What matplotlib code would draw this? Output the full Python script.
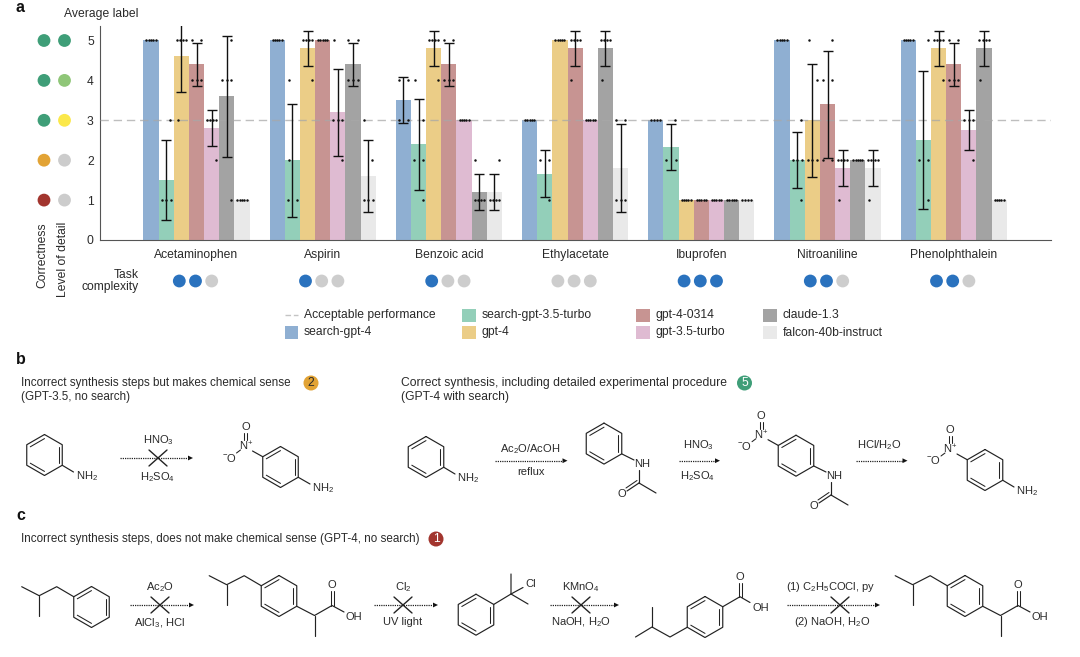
import numpy as np
import matplotlib
matplotlib.use("Agg")
import matplotlib.pyplot as plt
from matplotlib.patches import Circle, Polygon, Rectangle

plt.rcParams["font.family"] = ["Liberation Sans", "DejaVu Sans"]
plt.rcParams["mathtext.fontset"] = "custom"
plt.rcParams["mathtext.rm"] = "Liberation Sans"
plt.rcParams["mathtext.default"] = "regular"

TEXT = "#2a2a2a"
INK = "#222222"

chemicals = ["Acetaminophen", "Aspirin", "Benzoic acid", "Ethylacetate", "Ibuprofen", "Nitroaniline", "Phenolphthalein"]
models = ["search-gpt-4", "search-gpt-3.5-turbo", "gpt-4", "gpt-4-0314", "gpt-3.5-turbo", "claude-1.3", "falcon-40b-instruct"]
model_colors = ["#8fafd2", "#93cfb9", "#ebcd87", "#c79492", "#dfbbd2", "#a3a3a3", "#e9e9e9"]

# scores per model, same order as models
acetaminophen = [[5, 5, 5, 5, 5], [3, 1, 1, 1], [5, 5, 5, 5, 3], [5, 5, 4, 4, 4], [3, 3, 3, 3, 2], [5, 4, 4, 4, 1], [1, 1, 1, 1, 1]]
aspirin = [[5, 5, 5, 5, 5], [4, 2, 1, 1], [5, 5, 5, 5, 4], [5, 5, 5, 5, 5], [5, 3, 3, 3, 2], [5, 5, 4, 4, 4], [3, 2, 1, 1, 1]]
benzoic_acid = [[4, 4, 3, 3], [4, 3, 2, 2, 1], [5, 5, 5, 5, 4], [5, 5, 4, 4, 4], [3, 3, 3, 3, 3], [2, 1, 1, 1, 1], [2, 1, 1, 1, 1]]
ethylacetate = [[3, 3, 3, 3, 3], [2, 2, 1], [5, 5, 5, 5, 5], [5, 5, 5, 5, 4], [3, 3, 3, 3, 3], [5, 5, 5, 5, 4], [3, 3, 1, 1, 1]]
ibuprofen = [[3, 3, 3, 3], [3, 2, 2], [1, 1, 1, 1, 1], [1, 1, 1, 1, 1], [1, 1, 1, 1, 1], [1, 1, 1, 1, 1], [1, 1, 1, 1]]
nitroaniline = [[5, 5, 5, 5, 5], [3, 2, 2, 2, 1], [5, 4, 2, 2, 2], [5, 4, 4, 2, 2], [2, 2, 2, 2, 1], [2, 2, 2, 2, 2], [2, 2, 2, 2, 1]]
phenolphthalein = [[5, 5, 5, 5, 5], [5, 2, 2, 1], [5, 5, 5, 5, 4], [5, 5, 4, 4, 4], [3, 3, 3, 2], [5, 5, 5, 5, 4], [1, 1, 1, 1, 1]]
all_scores = [acetaminophen, aspirin, benzoic_acid, ethylacetate, ibuprofen, nitroaniline, phenolphthalein]

complexity = [2, 1, 1, 0, 3, 2, 2]
acceptable = 3
correctness_colors = ["#a2352e", "#e2a335", "#3f9e78", "#3f9e78", "#3f9e78"]
detail_colors = ["#cccccc", "#cccccc", "#fbe84a", "#8fc678", "#3f9e78"]
levels = [1, 2, 3, 4, 5]

W, H = 1080, 657
fig = plt.figure(figsize=(W / 100, H / 100), dpi=100)

# main bar axes, placed in pixels
AX_L, AX_R, AX_B, AX_T = 100, 1051, 240, 26
UNIT = 39.9
GROUP = 126.2
X0 = 196.5
BAR = 15.17

ax = fig.add_axes([AX_L / W, 1 - AX_B / H, (AX_R - AX_L) / W, (AX_B - AX_T) / H])
ax.set_xlim((AX_L - X0) / GROUP, (AX_R - X0) / GROUP)
ax.set_ylim(0, (AX_B - AX_T) / UNIT)
bar_w = BAR / GROUP

for i, group in enumerate(all_scores):
    for j, scores in enumerate(group):
        x = i + (j - 3) * bar_w
        mean = np.mean(scores)
        sd = np.std(scores, ddof=1)
        ax.bar(x, mean, bar_w, color=model_colors[j], zorder=2)
        if sd > 0:
            ax.errorbar(x, mean, yerr=sd, color="#111111", lw=1.0, capsize=3.7, capthick=1.0, zorder=5)
        vals, counts = np.unique(scores, return_counts=True)
        for v, c in zip(vals, counts):
            if c == 1:
                off = np.array([-0.25 if (v + j) % 2 else 0.28])
            else:
                off = np.linspace(-0.3, 0.3, c)
            ax.scatter(x + off * bar_w, [v] * c, s=3.2, color="#111111", linewidths=0, zorder=6)

ax.axhline(acceptable, color="#a8a8a8", lw=1.0, ls=(0, (6, 3.5)), alpha=0.75, zorder=4)

ax.spines["top"].set_visible(False)
ax.spines["right"].set_visible(False)
ax.spines["left"].set_color("#555555")
ax.spines["bottom"].set_color("#555555")
ax.spines["left"].set_linewidth(0.8)
ax.spines["bottom"].set_linewidth(0.8)
ax.set_yticks([0, 1, 2, 3, 4, 5])
ax.set_xticks(range(len(chemicals)))
ax.set_xticklabels(chemicals)
ax.tick_params(axis="both", length=0, labelsize=8.7, labelcolor=TEXT)
ax.tick_params(axis="y", pad=4.5)
ax.tick_params(axis="x", pad=6.5)

# everything else is drawn on a pixel overlay
ov = fig.add_axes([0, 0, 1, 1], zorder=-1)
ov.set_xlim(0, W)
ov.set_ylim(H, 0)
ov.axis("off")


def label(x, y, s, size=8.7, ha="left", va="center", **kw):
    ov.text(x, y, s, fontsize=size, ha=ha, va=va, color=kw.pop("color", TEXT), **kw)


def dot(x, y, r, color):
    ov.add_patch(Circle((x, y), r, color=color, lw=0))


def line(pts, lw=0.85):
    xs, ys = zip(*pts)
    ov.plot(xs, ys, color=INK, lw=lw, solid_capstyle="round", solid_joinstyle="round")


def ring(cx, cy, r=20.5):
    a = np.radians(np.arange(6) * 60)
    vx = cx + r * np.sin(a)
    vy = cy - r * np.cos(a)
    line(list(zip(np.r_[vx, vx[0]], np.r_[vy, vy[0]])))
    for k in (1, 3, 5):
        n = (k + 1) % 6
        p = (cx + 0.8 * (vx[k] - cx), cy + 0.8 * (vy[k] - cy))
        q = (cx + 0.8 * (vx[n] - cx), cy + 0.8 * (vy[n] - cy))
        line([p, q], lw=0.75)


def arrow(x0, x1, y, cross=None):
    ov.plot([x0, x1 - 4], [y, y], color=INK, lw=0.9, ls=(0, (1, 0.8)))
    ov.add_patch(Polygon([(x1 - 5, y - 2.4), (x1, y), (x1 - 5, y + 2.4)], color="#111111", lw=0))
    if cross is not None:
        line([(cross - 9, y - 8), (cross + 9, y + 8)], lw=1.0)
        line([(cross - 9, y + 8), (cross + 9, y - 8)], lw=1.0)


def aniline(cx, cy):
    ring(cx, cy)
    line([(cx + 17.8, cy + 10.3), (cx + 29, cy + 17)])
    label(cx + 31, cy + 21, "NH$_2$", size=8, ha="left")


def nitro(cx, cy):
    # N+ and its oxygens on the upper left vertex
    line([(cx - 17.8, cy - 10.3), (cx - 28, cy - 16)])
    label(cx - 34.5, cy - 20.5, "N$^{+}$", size=8, ha="center")
    line([(cx - 36.5, cy - 27), (cx - 36.5, cy - 34)], lw=0.75)
    line([(cx - 33.5, cy - 27), (cx - 33.5, cy - 34)], lw=0.75)
    label(cx - 35, cy - 40, "O", size=8, ha="center")
    line([(cx - 40, cy - 17), (cx - 44, cy - 14)], lw=0.75)
    label(cx - 51, cy - 9.5, "$^{-}$O", size=8, ha="center")


def acetamide(nx, ny):
    label(nx, ny, "NH", size=8, ha="center")
    line([(nx - 3, ny + 6), (nx - 3, ny + 19)])
    line([(nx - 3, ny + 19), (nx + 14, ny + 29)])
    line([(nx - 3, ny + 19), (nx - 15, ny + 27)])
    line([(nx - 5, ny + 16.5), (nx - 16, ny + 24)], lw=0.75)
    label(nx - 20, ny + 30, "O", size=8, ha="center")


def isobutyl(vx, vy):
    # starts on the upper left ring vertex
    line([(vx, vy), (vx - 17, vy - 10), (vx - 34.5, vy - 1), (vx - 52, vy - 10)])
    line([(vx - 34.5, vy - 1), (vx - 34.5, vy + 19)])


def ibuprofen_mol(cx, cy):
    ring(cx, cy)
    isobutyl(cx - 17.8, cy - 10.3)
    line([(cx + 17.8, cy + 10.3), (cx + 35.5, cy + 19.5), (cx + 53, cy + 9.5), (cx + 65, cy + 16)])
    line([(cx + 35.5, cy + 19.5), (cx + 35.5, cy + 39.5)])
    line([(cx + 51.5, cy + 9.5), (cx + 51.5, cy - 5)], lw=0.75)
    line([(cx + 54.5, cy + 9.5), (cx + 54.5, cy - 5)], lw=0.75)
    label(cx + 53, cy - 10.5, "O", size=8, ha="center")
    label(cx + 74.5, cy + 20.5, "OH", size=8, ha="center")


# panel letters
label(16, 8, "a", size=11.5, fontweight="bold", color="#111111")
label(16, 359, "b", size=11.5, fontweight="bold", color="#111111")
label(16, 515, "c", size=11.5, fontweight="bold", color="#111111")

# label key on the left of panel a
label(64, 14, "Average label", size=8.7)
for v, c1, c2 in zip(levels, correctness_colors, detail_colors):
    y = AX_B - UNIT * v
    dot(44, y, 6.4, c1)
    dot(64.5, y, 6.4, c2)
label(42, 222, "Correctness", size=8.7, rotation=90, ha="center", va="top")
label(63, 222, "Level of detail", size=8.7, rotation=90, ha="center", va="top")
label(139, 275, "Task", size=8.7, ha="right")
label(139, 287, "complexity", size=8.7, ha="right")
for i, n in enumerate(complexity):
    for k in range(3):
        dot(X0 + i * GROUP + (k - 1) * 16.2 - 1, 281, 6.4, "#2a72be" if k < n else "#cdcdcd")

# legend
ov.plot([284.5, 298], [315, 315], color="#c4c4c4", lw=1.0, ls=(0, (4, 2)))
label(304.5, 315, "Acceptable performance")
legend_x = [284.5, 462, 636, 763, 462, 636, 763]
legend_y = [332.5, 315, 315, 315, 332.5, 332.5, 332.5]
legend_order = [0, 1, 3, 5, 2, 4, 6]
for x, y, m in zip(legend_x, legend_y, legend_order):
    ov.add_patch(Rectangle((x, y - 6.5), 13.5, 13, color=model_colors[m], lw=0))
    label(x + 19.5, y, models[m])

# panel b
label(20.7, 383, "Incorrect synthesis steps but makes chemical sense", size=8.4)
label(20.7, 397, "(GPT-3.5, no search)", size=8.4)
dot(311, 383, 7.5, "#e2a335")
label(311, 383, "2", ha="center")
label(401, 383, "Correct synthesis, including detailed experimental procedure")
label(401, 397, "(GPT-4 with search)")
dot(744.5, 383, 7.5, "#3f9e78")
label(744.5, 383, "5", ha="center", color="white")

aniline(44.5, 455)
arrow(120, 193, 458, cross=158)
label(158, 440, "HNO$_3$", size=8, ha="center")
label(158, 477, "H$_2$SO$_4$", size=8, ha="center")
ring(280.5, 467)
nitro(280.5, 467)
line([(298.3, 477.3), (310, 484)])
label(311.5, 488, "NH$_2$", size=8, ha="left")

aniline(426, 457)
arrow(495, 567.5, 460.7)
label(530, 449, "Ac$_2$O/AcOH", size=8, ha="center")
label(531, 472, "reflux", size=8, ha="center")
ring(604, 443.6)
line([(621.8, 453.9), (634, 460)])
acetamide(642, 464)
arrow(678.5, 720, 460.7)
label(698, 445, "HNO$_3$", size=8, ha="center")
label(698, 476, "H$_2$SO$_4$", size=8, ha="center")
ring(796, 455.7)
nitro(796, 455.7)
line([(813.8, 466), (826, 472)])
acetamide(834, 476)
arrow(856, 907.5, 460.7)
label(879, 445, "HCl/H$_2$O", size=8, ha="center")
ring(985, 470)
nitro(985, 470)
line([(1002.8, 480.3), (1014, 487)])
label(1016, 491, "NH$_2$", size=8, ha="left")

# panel c
label(20.7, 539, "Incorrect synthesis steps, does not make chemical sense (GPT-4, no search)", size=8.4)
dot(436, 539, 7.5, "#a2352e")
label(436, 539, "1", ha="center", color="white")

ring(91.5, 607)
isobutyl(73.7, 596.7)
arrow(130, 194, 605, cross=160)
label(160, 587, "Ac$_2$O", size=8, ha="center")
label(160, 623, "AlCl$_3$, HCl", size=8, ha="center")
ibuprofen_mol(279, 596)
arrow(374, 438, 605, cross=403)
label(403, 587, "Cl$_2$", size=8, ha="center")
label(403, 622, "UV light", size=8, ha="center")
ring(476, 614.7)
line([(493.8, 604.4), (511, 594), (511, 574)])
line([(511, 594), (528, 604)])
line([(511, 594), (523, 587.5)])
label(525, 584, "Cl", size=8)

arrow(549.7, 619, 605, cross=581)
label(581, 587, "KMnO$_4$", size=8, ha="center")
label(581, 622, "NaOH, H$_2$O", size=8, ha="center")
ring(705, 617)
line([(722.8, 606.7), (740, 596.7), (750, 602.5)])
line([(738.5, 596.7), (738.5, 583)], lw=0.75)
line([(741.5, 596.7), (741.5, 583)], lw=0.75)
label(740, 577.5, "O", size=8, ha="center")
label(761, 608, "OH", size=8, ha="center")
line([(687.2, 627.3), (670, 637), (652, 627), (635.5, 637)])
line([(652, 627), (652, 607)])
arrow(787, 880, 605, cross=840)
label(831, 587, "(1) C$_2$H$_5$COCl, py", size=8, ha="center")
label(832, 622, "(2) NaOH, H$_2$O", size=8, ha="center")
ibuprofen_mol(965, 596)

fig.savefig("out.png", dpi=100)
